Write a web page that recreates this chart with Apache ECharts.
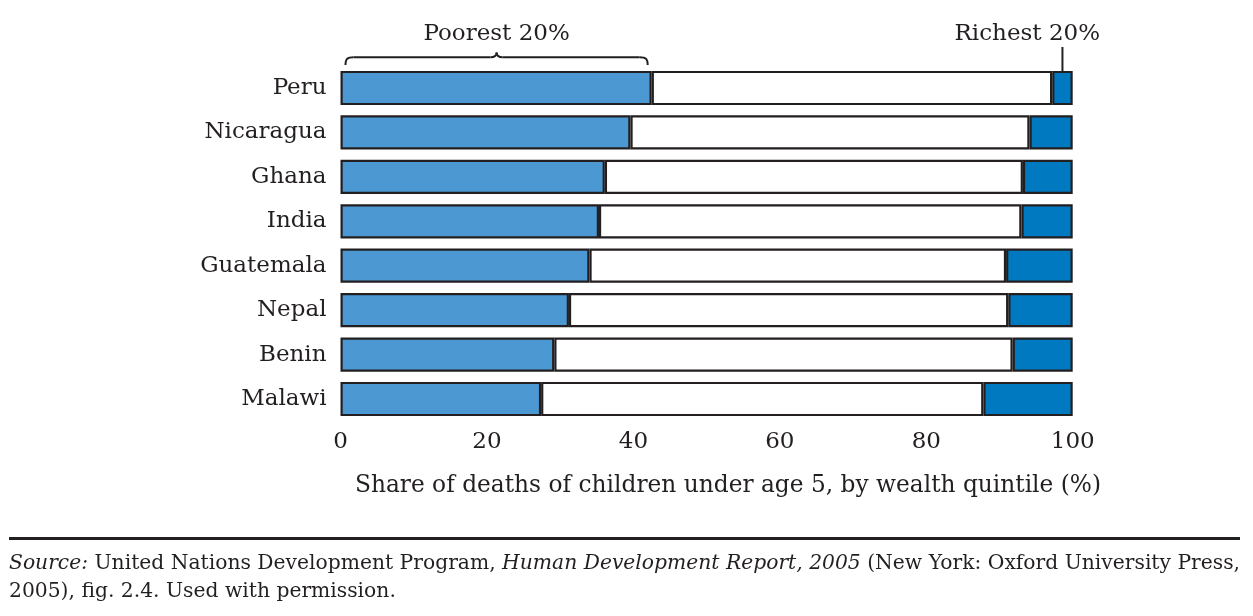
<!DOCTYPE html>
<html><head><meta charset="utf-8">
<script src="https://cdn.jsdelivr.net/npm/echarts@6/dist/echarts.min.js"></script>
<style>html,body{margin:0;padding:0;background:#fff}#c{width:1253px;height:616px}</style>
</head><body><div id="c"></div>
<script>
var countries = ['Peru','Nicaragua','Ghana','India','Guatemala','Nepal','Benin','Malawi'];
var poorest = [42.5, 39.6, 36.1, 35.3, 34.0, 31.2, 29.2, 27.4];
var richest = [2.8, 5.9, 6.8, 7.0, 9.1, 8.8, 8.2, 12.2];
var middle = poorest.map(function(p,i){ return +(100 - p - richest[i]).toFixed(1); });
var xTicks = [0, 20, 40, 60, 80, 100];
var axisTitle = 'Share of deaths of children under age 5, by wealth quintile (%)';

var FONT = 'DejaVu Serif';
var INK = '#231f20';
var chart = echarts.init(document.getElementById('c'), null, {renderer:'canvas'});
var border = {borderColor:INK, borderWidth:2.2};
function ser(name, data, color){
  return {name:name, type:'bar', stack:'s', data:data, barCategoryGap:'23%',
    itemStyle:Object.assign({color:color}, border), emphasis:{disabled:true}, silent:true};
}
chart.setOption({
  animation:false,
  grid:{left:340.5, right:180.3, top:65.8, bottom:194.8},
  xAxis:{type:'value', min:xTicks[0], max:xTicks[xTicks.length-1], interval:20,
    axisLine:{show:false}, axisTick:{show:false}, splitLine:{show:false},
    axisLabel:{fontFamily:FONT, fontSize:23, color:INK, margin:9}},
  yAxis:{type:'category', data:countries, inverse:true,
    axisLine:{show:false}, axisTick:{show:false},
    axisLabel:{fontFamily:FONT, fontSize:23, color:INK, margin:14}},
  series:[ser('Poorest 20%', poorest, '#4b98d3'), ser('Middle', middle, '#ffffff'), ser('Richest 20%', richest, '#0079c0')]
});

var x0 = chart.convertToPixel({gridIndex:0}, [0, 0])[0];
var x1 = chart.convertToPixel({gridIndex:0}, [poorest[0], 0])[0];
var xr = chart.convertToPixel({gridIndex:0}, [100 - richest[0]/2, 0])[0];
var bx0 = x0 + 5, bx1 = x1 - 4, mid = (bx0 + bx1)/2;
var yb = 65, yh = 57.3, yp = 52.5;
var st = {fill:null, stroke:INK, lineWidth:2};
function bz(a,b,c,d,e,f,g,h){ return {type:'bezierCurve', silent:true, shape:{x1:a,y1:b,cpx1:c,cpy1:d,cpx2:e,cpy2:f,x2:g,y2:h}, style:st}; }
function ln(a,b,c,d){ return {type:'line', silent:true, shape:{x1:a,y1:b,x2:c,y2:d}, style:st}; }

chart.setOption({graphic:[
  bz(bx0,yb, bx0,yh+1, bx0+2,yh, bx0+8,yh),
  ln(bx0+8,yh, mid-6,yh),
  bz(mid-6,yh, mid-2,yh, mid,yh-2, mid,yp),
  bz(mid,yp, mid,yh-2, mid+2,yh, mid+6,yh),
  ln(mid+6,yh, bx1-8,yh),
  bz(bx1-8,yh, bx1-2,yh, bx1,yh+1, bx1,yb),
  {type:'text', x:mid, y:34, style:{text:'Poorest 20%', font:'23px "DejaVu Serif"', fill:INK, textAlign:'center', textVerticalAlign:'middle'}},
  {type:'text', x:1100, y:34, style:{text:'Richest 20%', font:'23px "DejaVu Serif"', fill:INK, textAlign:'right', textVerticalAlign:'middle'}},
  {type:'line', shape:{x1:xr, y1:47, x2:xr, y2:71}, style:{stroke:INK, lineWidth:2}},
  {type:'text', x:728, y:486, style:{text:axisTitle, font:'23.3px "DejaVu Serif"', fill:INK, textAlign:'center', textVerticalAlign:'middle'}},
  {type:'rect', shape:{x:9, y:537, width:1231, height:3}, style:{fill:INK}},
  {type:'text', x:9, y:564, style:{
    text:'{i|Source:} United Nations Development Program, {i|Human Development Report, 2005} (New York: Oxford University Press,',
    font:'20.3px "DejaVu Serif"', fill:INK, textVerticalAlign:'middle',
    rich:{i:{fontStyle:'italic', fontFamily:FONT, fontSize:20.3}}}},
  {type:'text', x:9, y:592, style:{text:'2005), fig. 2.4. Used with permission.', font:'20.3px "DejaVu Serif"', fill:INK, textVerticalAlign:'middle'}}
]});
</script></body></html>
